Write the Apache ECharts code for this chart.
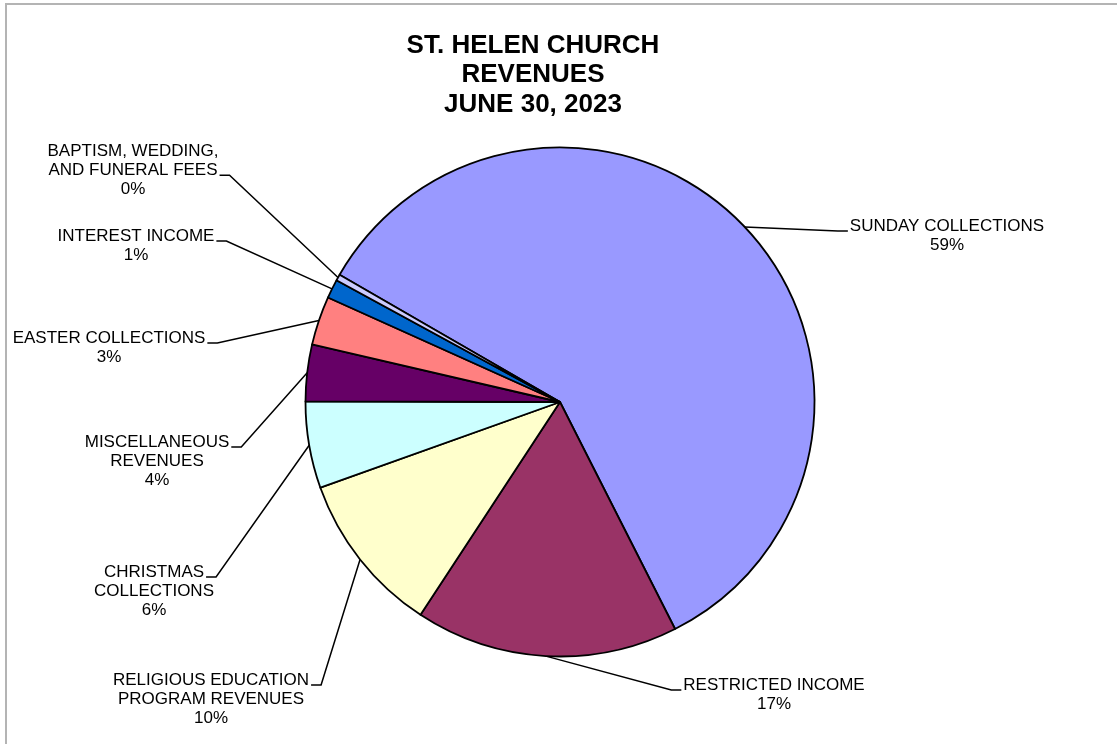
<!DOCTYPE html>
<html>
<head>
<meta charset="utf-8">
<script src="https://cdn.jsdelivr.net/npm/echarts@6/dist/echarts.min.js"></script>
<style>
html,body{margin:0;padding:0;background:#fff;}
#chart{width:1117px;height:744px;}
</style>
</head>
<body>
<div id="chart"></div>
<script>
// ---- data ----
const categories = [
  'SUNDAY COLLECTIONS',
  'RESTRICTED INCOME',
  'RELIGIOUS EDUCATION\nPROGRAM REVENUES',
  'CHRISTMAS\nCOLLECTIONS',
  'MISCELLANEOUS\nREVENUES',
  'EASTER COLLECTIONS',
  'INTEREST INCOME',
  'BAPTISM, WEDDING,\nAND FUNERAL FEES'
];
const values = [59.2, 16.7, 10.3, 5.5, 3.6, 3.1, 1.2, 0.4];
const titleLines = ['ST. HELEN CHURCH', 'REVENUES', 'JUNE 30, 2023'];

// ---- styling / layout (not data) ----
const colors = ['#9999FF', '#993366', '#FFFFCC', '#CCFFFF', '#660066', '#FF8080', '#0066CC', '#CCCCFF'];
// [label block centre x, first line centre y, line index the leader attaches to, side of pie]
const labelPlace = [
  [947, 226, 0, 'R'],
  [774, 685, 0, 'R'],
  [211, 680, 0, 'L'],
  [154, 572, 0, 'L'],
  [157, 442, 0, 'L'],
  [109, 338, 0, 'L'],
  [136, 236, 0, 'L'],
  [133, 151, 1, 'L']
];
const FONT_SIZE = 17;
const LINE_H = 19.3;
const FONT_FAMILY = '"Liberation Sans", Arial, Helvetica, sans-serif';

const measureCtx = document.createElement('canvas').getContext('2d');
measureCtx.font = FONT_SIZE + 'px ' + FONT_FAMILY;
function textW(s) { return measureCtx.measureText(s).width; }

const chart = echarts.init(document.getElementById('chart'), null, {renderer: 'canvas'});

const option = {
  backgroundColor: '#fff',
  animation: false,
  title: {
    text: titleLines.join('\n'),
    left: 533,
    top: 31,
    padding: 0,
    textAlign: 'center',
    textStyle: {
      fontFamily: FONT_FAMILY,
      fontSize: 26,
      fontWeight: 'bold',
      color: '#000',
      lineHeight: 29.5
    }
  },
  graphic: [{
    type: 'rect',
    shape: {x: 6, y: 4, width: 1300, height: 900},
    style: {fill: 'none', stroke: '#b4b4b4', lineWidth: 2},
    silent: true
  }],
  series: [{
    type: 'pie',
    center: [560, 402],
    radius: [0, 254.5],
    startAngle: 150,
    clockwise: true,
    avoidLabelOverlap: false,
    emphasis: {disabled: true},
    itemStyle: {borderColor: '#000', borderWidth: 1.8},
    label: {
      show: true,
      position: 'outside',
      fontFamily: FONT_FAMILY,
      fontSize: FONT_SIZE,
      lineHeight: LINE_H,
      color: '#000',
      align: 'center',
      formatter: function (p) {
        return p.name + '\n' + Math.round(p.value) + '%';
      }
    },
    labelLine: {
      show: true,
      length: 10,
      length2: 10,
      lineStyle: {color: '#000', width: 1.5}
    },
    labelLayout: function (params) {
      const pl = labelPlace[params.dataIndex];
      const cx = pl[0], y0 = pl[1], li = pl[2], side = pl[3];
      const lines = (categories[params.dataIndex] + '\n0%').split('\n');
      const w = textW(lines[li]);
      const ay = y0 + li * LINE_H + 5;
      let ax, sx;
      if (side === 'L') { ax = cx + w / 2 + 2; sx = ax + 10; }
      else { ax = cx - w / 2 - 2; sx = ax - 10; }
      const start = params.labelLinePoints && params.labelLinePoints[0];
      const out = {
        x: cx,
        y: y0 - LINE_H / 2,
        align: 'center',
        verticalAlign: 'top'
      };
      if (start) {
        out.labelLinePoints = [start, [sx, ay], [ax, ay]];
      }
      return out;
    },
    data: categories.map(function (c, i) {
      return {name: c, value: values[i], itemStyle: {color: colors[i]}};
    })
  }]
};
chart.setOption(option);
</script>
</body>
</html>
